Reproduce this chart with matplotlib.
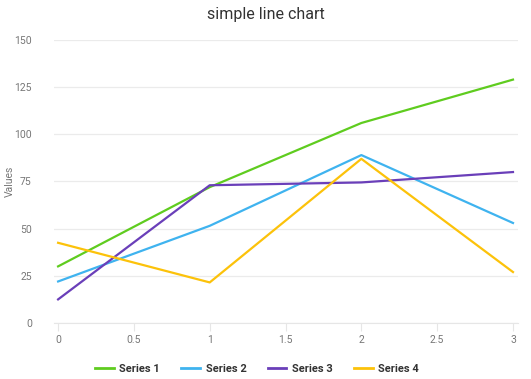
import matplotlib
matplotlib.use("Agg")
import matplotlib.pyplot as plt

x = [0, 1, 2, 3]
series_names = ["Series 1", "Series 2", "Series 3", "Series 4"]
series1 = [30, 72, 106, 129]
series2 = [22, 51.5, 89, 53]
series3 = [12.5, 73, 74.5, 80]
series4 = [42.5, 21.5, 87, 27]
colors = ["#5fcc1f", "#3fb3ef", "#6a3fb9", "#fcc20a"]
yticks = [0, 25, 50, 75, 100, 125, 150]
xticks = [0, 0.5, 1, 1.5, 2, 2.5, 3]
xticklabels = ["0", "0.5", "1", "1.5", "2", "2.5", "3"]

plt.rcParams['font.family'] = ['Roboto', 'DejaVu Sans']

fig = plt.figure(figsize=(5.31, 3.79), dpi=100)
ax = fig.add_axes([0.1017, 0.1478, 0.8738, 0.7467])

for name, vals, c in zip(series_names, [series1, series2, series3, series4], colors):
    ax.plot(x, vals, color=c, lw=1.6, label=name)

ax.set_ylim(0, 150)
ax.set_xlim(-0.027, 3.033)
ax.set_yticks(yticks)
ax.set_xticks(xticks)
ax.set_xticklabels(xticklabels)
ax.grid(axis='y', color='#ebebeb', lw=0.9)
ax.set_axisbelow(True)
for s in ['top', 'right', 'left']:
    ax.spines[s].set_visible(False)
ax.spines['bottom'].set_color('#e6e6e6')
ax.tick_params(axis='y', length=0, pad=16, labelsize=7.5, labelcolor='#777777')
ax.tick_params(axis='x', length=6, color='#e6e6e6', pad=3, labelsize=7.5, labelcolor='#777777')
ax.set_ylabel("Values", fontsize=7.5, color='#777777', labelpad=6)
ax.yaxis.set_label_coords(-0.085, 0.5)
fig.text(0.5, 0.962, "simple line chart", ha='center', va='center', fontsize=11.5, color='#333333')

leg = fig.legend(loc='center', bbox_to_anchor=(0.484, 0.026), ncol=4, frameon=False,
                 fontsize=8, handlelength=1.7, columnspacing=1.9, handletextpad=0.5)
for t in leg.get_texts():
    t.set_fontweight('bold')
    t.set_color('#333333')
for l in leg.get_lines():
    l.set_linewidth(2)

fig.savefig("out.png", dpi=100)
